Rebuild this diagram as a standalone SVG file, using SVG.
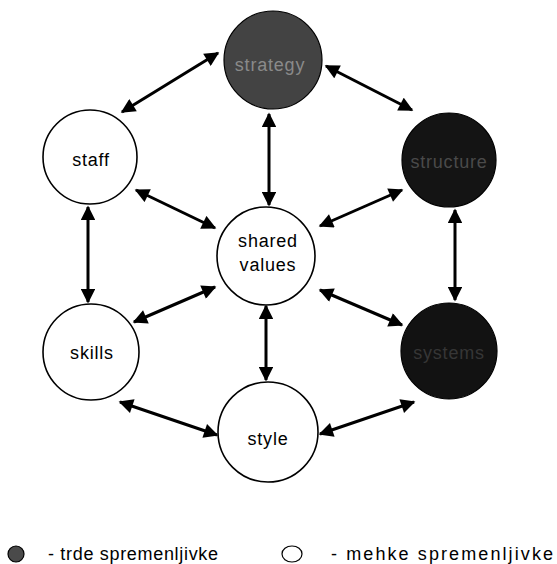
<svg xmlns="http://www.w3.org/2000/svg" width="557" height="564" viewBox="0 0 557 564">
  <style>
    .soft { fill: #ffffff; stroke: #000000; stroke-width: 1.6; }
    .hard { stroke: #000000; stroke-width: 1.2; }
    .label { font-family: "Liberation Sans", Arial, sans-serif; font-size: 18px; letter-spacing: 0.8px; text-anchor: middle; fill: #000000; }
    .hardlabel { font-family: "Liberation Sans", Arial, sans-serif; font-size: 18px; letter-spacing: 0.8px; text-anchor: middle; }
    .legend { font-family: "Liberation Sans", Arial, sans-serif; font-size: 18px; fill: #000000; }
    .link { stroke: #000000; stroke-width: 3; fill: none; marker-start: url(#head); marker-end: url(#head); }
  </style>
  <defs>
    <marker id="head" viewBox="0 0 10 10" refX="9" refY="5" markerWidth="5.4" markerHeight="4.8" orient="auto-start-reverse" markerUnits="strokeWidth">
      <path d="M0,0 L10,5 L0,10 Z" fill="#000000"/>
    </marker>
  </defs>
  <rect width="557" height="564" fill="#ffffff"/>

  <!-- connectors -->
  <g id="connectors">
    <line class="link" x1="122" y1="112" x2="218" y2="53"/>
    <line class="link" x1="326" y1="66" x2="412" y2="110"/>
    <line class="link" x1="269" y1="114" x2="269" y2="205"/>
    <line class="link" x1="88" y1="207" x2="88" y2="302"/>
    <line class="link" x1="455" y1="210" x2="455" y2="300"/>
    <line class="link" x1="136" y1="190" x2="215" y2="228"/>
    <line class="link" x1="402" y1="190" x2="320" y2="226"/>
    <line class="link" x1="134" y1="322" x2="215" y2="287"/>
    <line class="link" x1="402" y1="325" x2="320" y2="290"/>
    <line class="link" x1="266" y1="306" x2="266" y2="380"/>
    <line class="link" x1="120" y1="402" x2="217" y2="435"/>
    <line class="link" x1="414" y1="402" x2="320" y2="434"/>
  </g>

  <!-- hard elements -->
  <g id="strategy">
    <circle class="hard" cx="273" cy="60" r="49" fill="#434343"/>
    <text class="hardlabel" x="270" y="71" fill="#8a8a8a">strategy</text>
  </g>
  <g id="structure">
    <circle class="hard" cx="449" cy="160" r="47" fill="#141414"/>
    <text class="hardlabel" x="449" y="168" fill="#4a4a4a">structure</text>
  </g>
  <g id="systems">
    <circle class="hard" cx="449" cy="351" r="48" fill="#121212"/>
    <text class="hardlabel" x="449" y="359" fill="#363636">systems</text>
  </g>

  <!-- soft elements -->
  <g id="staff">
    <circle class="soft" cx="90" cy="157" r="47"/>
    <text class="label" x="91" y="166">staff</text>
  </g>
  <g id="shared-values">
    <circle class="soft" cx="266" cy="256" r="49"/>
    <text class="label" x="268" y="247">shared</text>
    <text class="label" x="268" y="271">values</text>
  </g>
  <g id="skills">
    <circle class="soft" cx="91" cy="352" r="48"/>
    <text class="label" x="92" y="359">skills</text>
  </g>
  <g id="style">
    <circle class="soft" cx="268" cy="432" r="50"/>
    <text class="label" x="268" y="445">style</text>
  </g>

  <!-- legend -->
  <g id="legend">
    <circle cx="16" cy="554" r="8" fill="#4a4a4a" stroke="#000000" stroke-width="1.2"/>
    <text class="legend" x="48" y="560" textLength="170" lengthAdjust="spacing">- trde spremenljivke</text>
    <ellipse cx="292" cy="554" rx="10" ry="8" fill="#ffffff" stroke="#000000" stroke-width="1.2"/>
    <text class="legend" x="331" y="560" textLength="222" lengthAdjust="spacing">- mehke spremenljivke</text>
  </g>
</svg>
